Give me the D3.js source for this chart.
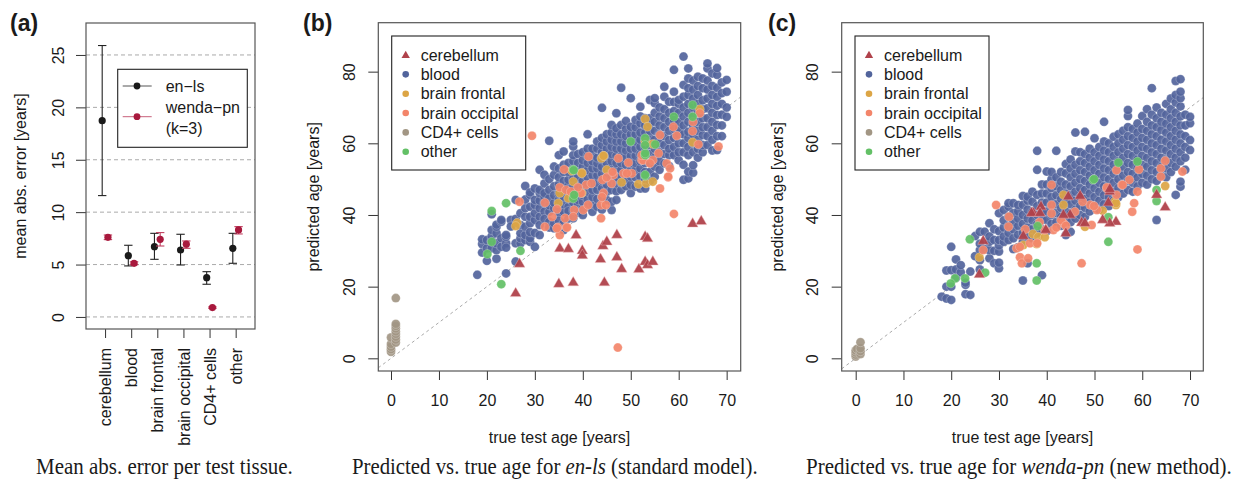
<!DOCTYPE html>
<html><head><meta charset="utf-8">
<script src="https://cdn.jsdelivr.net/npm/d3@7"></script>
<style>
body{margin:0;background:#fff}
svg{display:block}
text{font-family:"Liberation Sans",Arial,sans-serif;fill:#1a1a1a}
</style>
</head><body>
<svg id="chart" width="1238" height="484"></svg>
<script>
// ---------- Panel (a) data ----------
const tissues = ["cerebellum","blood","brain frontal","brain occipital","CD4+ cells","other"];
const enlsMean = [18.73, 5.85, 6.71, 6.39, 3.75, 6.55];
const enlsLo   = [11.58, 4.87, 5.50, 4.96, 3.12, 5.12];
const enlsHi   = [25.90, 6.84, 7.98, 7.89, 4.32, 7.98];
const wendaMean = [7.60, 5.12, 7.41, 6.94, 0.89, 8.30];
const wendaLo   = [7.38, 4.98, 6.77, 6.55, 0.82, 7.92];
const wendaHi   = [7.82, 5.26, 8.05, 7.25, 0.96, 8.62];
const aTicks = [0,5,10,15,20,25];
const ageTicks = [0,10,20,30,40,50,60,70];
const predTicks = [0,20,40,60,80];
const legendLabels = ["cerebellum","blood","brain frontal","brain occipital","CD4+ cells","other"];

// ---------- Panel (b) data: en-ls ----------
const bloodB = [
[18,[23.3]],[19,[29.5,31.9,33.2]],[20,[27.2,30.7,33.0]],[21,[30.7,32.8,34.1,35.8,40.2]],
[22,[27.8,30.2,32.1,34.9,36.7,37.3]],[23,[31.1,33.5,38.1,38.6]],[24,[23.7,32.1,33.9,34.4,30.9]],
[25,[38.6,36.8]],[26,[27.0,32.1,44.2,38.9]],[27,[32.1,33.5,34.9,37.2,40.5]],
[28,[33.0,34.4,36.7,39.5,41.9,48.1,44.3]],[29,[32.5,33.5,37.7,39.5,42.3,45.6,46.3,35.2]],
[30,[31.1,35.0,38.6,40.5,42.8,44.2,47.4]],[31,[34.4,39.5,41.9,44.0,46.1,47.0,52.6,37.2]],
[32,[41.0,43.3,45.1,46.1,48.8,51.2,38.9]],[33,[38.1,40.9,42.7,44.7,47.0,50.0,60.7,36.5]],
[34,[36.3,37.7,41.9,43.4,45.5,48.0,51.2,53.5]],[35,[40.5,42.1,44.2,46.0,48.5,50.5,53.0,56.7,38.4]],
[36,[35.8,37.7,40.9,43.0,45.1,47.5,49.5,52.0,54.0,57.7]],[37,[39.0,42.3,44.5,46.5,48.2,49.8,52.0,54.5,41.1]],
[38,[39.1,41.4,43.5,45.6,48.0,50.2,53.0,55.0,56.7,59.1,60.5]],[39,[42.8,44.2,46.5,48.5,50.5,52.5,54.5,57.0,40.6]],
[40,[40.0,41.9,43.7,45.5,47.5,49.5,51.5,53.5,55.3,57.5]],[41,[44.4,46.5,48.8,50.5,52.5,54.5,56.5,58.5,62.5,42.3]],
[42,[40.9,43.0,45.0,47.0,49.0,51.0,53.0,55.0,56.7,58.5]],[43,[42.3,44.5,47.0,49.0,51.0,53.0,54.4,56.0,58.5,60.5]],
[44,[41.5,45.0,47.5,49.5,51.5,53.5,55.5,57.5,59.5,61.5,69.9]],[45,[44.2,46.5,48.5,50.5,52.5,54.5,56.5,58.5,60.5,62.5]],
[46,[41.4,43.7,47.0,49.0,51.0,53.0,55.0,57.0,59.0,61.0,63.0,65.1]],[47,[44.2,46.6,48.8,50.5,52.5,54.5,56.5,58.5,60.5,62.5,64.2,68.4]],
[48,[47.0,49.0,51.0,52.6,54.5,56.5,58.5,60.5,62.5,65.1,75.5]],[49,[48.0,50.0,52.0,54.0,56.0,58.0,60.0,62.0,64.0,66.2]],
[50,[46.1,48.4,50.7,52.5,54.5,56.5,58.5,60.5,62.5,64.6,72.6]],[51,[47.9,50.5,52.5,54.5,56.5,58.5,60.5,62.5,64.5,66.5]],
[52,[47.4,50.7,53.0,55.0,57.0,59.0,61.0,63.0,65.6,70.2,67.5]],[53,[47.4,50.0,52.0,54.5,57.0,59.0,61.0,63.0,65.0,67.0]],
[54,[49.5,52.0,54.5,57.0,59.5,61.5,63.5,65.5,67.0,72.1]],[55,[50.7,53.5,56.0,58.5,61.0,63.5,66.0,68.5,71.2,72.6]],
[56,[52.6,55.0,57.5,60.0,62.5,65.0,67.5,70.0]],[57,[54.4,57.0,59.5,62.0,64.5,67.0,69.5,73.0,75.8]],
[58,[53.7,56.7,58.5,60.9,63.5,66.0,68.5,71.6]],[59,[56.7,59.0,61.5,64.0,66.5,69.0,71.5,74.4,80.5]],
[60,[55.3,57.5,60.0,62.5,64.3,66.0,68.5,71.0,72.1]],[61,[49.8,54.0,57.5,60.0,62.5,65.0,67.5,70.0,73.0,76.3,84.2]],
[62,[50.2,52.1,56.7,59.0,61.5,63.2,66.0,68.5,71.0,73.5,75.4,78.1,80.9]],[63,[51.8,53.9,57.5,60.0,62.5,65.0,67.5,70.0,72.5,75.0,77.5]],
[64,[56.0,58.5,61.0,63.5,66.0,68.5,71.0,73.5,76.0,78.6]],[65,[57.5,59.5,62.3,64.5,67.0,69.5,72.0,75.4,78.1]],
[66,[59.5,62.0,64.5,67.0,69.8,72.5,75.0,77.5,80.9,82.3]],[67,[58.0,61.0,63.5,66.0,68.5,71.0,73.5,76.0,79.5]],
[68,[58.1,62.0,65.1,67.9,70.5,73.0,75.5,79.1,81.0]],[69,[62.0,65.0,68.0,71.0,74.0,77.0]],[70,[67.4,70.0,74.4,77.7]]
];
const cd4B = [[0,1.8],[0,2.5],[0,3.2],[0,4.0],[0,5.8],[1,4.4],[1,5.2],[1,6.0],[1,6.8],[1,7.5],[1,8.3],[1,9.0],[1,9.6],[1,16.8]];
const frontB = [[43.9,55.8],[44.4,56.5],[39.8,51.8],[38.0,49.3],[35.2,46.1],[34.9,43.3],[26.3,37.8],[26.0,36.9],[48.1,49.1],[51.6,48.6],[53.2,48.8],[54.6,49.3],[45.0,52.6],[37.0,44.7],[39.8,46.1],[53.0,66.8],[53.5,64.6],[53.0,60.5],[54.6,59.8],[62.9,60.3],[64.4,69.5],[44.3,56.5],[37.7,52.3],[39.8,51.6]];
const occB = [[47.3,3.0],[29.4,62.1],[59.0,40.3],[56.1,47.4],[43.8,39.1],[26.8,43.7],[32.1,43.4],[32.1,36.7],[34.6,41.6],[33.6,39.5],[34.8,36.6],[35.2,34.4],[36.6,36.6],[36.3,39.1],[38.2,41.4],[38.0,39.5],[40.1,41.4],[41.1,42.8],[43.8,42.8],[44.8,42.8],[44.3,46.1],[44.0,45.0],[40.7,48.4],[41.8,48.8],[44.1,49.8],[46.0,48.8],[46.4,51.2],[48.5,51.6],[49.5,54.6],[50.2,51.6],[52.3,55.3],[54.6,55.3],[55.8,57.2],[57.5,54.4],[58.2,53.0],[57.8,50.5],[39.6,46.1],[39.0,47.7],[36.1,52.7],[41.2,56.3],[35.2,47.7],[36.5,47.0],[37.5,46.5],[47.4,55.8],[49.2,51.6],[52.6,55.3],[56.1,62.3],[58.9,64.6],[59.6,62.1],[62.9,63.4],[64.4,68.4],[64.1,59.7],[68.3,59.1],[57.8,50.7],[54.0,54.4],[52.3,56.7],[63.0,66.0],[45.0,50.5],[46.2,52.0],[34.6,36.3],[36.7,36.5]];
const otherB = [[21.0,41.1],[24.0,43.3],[21.0,32.5],[20.1,29.1],[27.0,30.0],[23.0,20.7],[38.0,52.7],[38.0,44.6],[38.2,45.6],[53.0,56.7],[53.0,50.9],[38.1,52.5],[50.0,60.5],[53.0,61.4],[53.0,57.2],[53.0,59.5],[55.1,59.7],[59.0,67.4],[62.9,70.7],[62.9,67.4],[53.0,51.2]];
const cerebB = [[26.0,18.1],[26.8,26.3],[35.0,20.7],[38.0,21.1],[44.5,21.1],[35.2,30.6],[37.0,30.5],[38.6,34.3],[39.9,30.0],[39.9,28.7],[43.7,27.6],[44.2,31.3],[45.0,32.5],[47.1,34.4],[47.1,28.2],[48.1,24.9],[51.7,24.8],[53.0,33.9],[53.5,33.4],[53.0,26.9],[53.5,26.0],[54.6,26.9],[62.9,37.5],[64.7,38.2]];

// ---------- Panel (c) data: wenda-pn ----------
const bloodC = [
[18,[17.2]],[19,[16.7,20.0,24.5]],[20,[16.3,20.0,24.6,31.1]],[21,[22.5,24.8,27.6]],[22,[24.0,26.0]],
[23,[17.9,20.5,21.1]],[24,[17.7,24.2]],[25,[28.5,34.1]],[26,[24.8,27.4,30.2,32.0,35.3]],[27,[30.5,35.3]],
[28,[27.9,30.2,32.5,34.0,37.7]],[29,[26.5,30.0,33.0,36.0]],[30,[25.1,26.7,29.8,31.5,33.0,35.5,40.5]],
[31,[32.5,34.0,36.5,38.5,41.4]],[32,[33.0,35.0,37.0,39.5,42.3,43.3]],[33,[30.5,33.5,36.0,38.0,40.5,43.3]],
[34,[31.0,34.5,37.0,39.0,41.0,42.8]],[35,[21.7,32.5,35.0,37.5,40.0,42.8,45.3]],[36,[26.5,34.0,36.5,39.0,41.5,44.0,45.1]],
[37,[33.5,36.0,38.5,41.0,43.7,46.5]],[38,[35.0,37.5,40.0,42.5,45.6,52.6,57.9]],[39,[23.2,36.0,38.5,41.0,43.5,46.0,48.5]],
[40,[35.5,38.6,41.0,43.5,46.0,48.5,52.1]],[41,[37.5,40.0,42.5,45.0,47.5,50.0,52.0]],[42,[38.0,40.5,43.0,45.5,48.0,50.5,57.9]],
[43,[37.0,39.5,42.0,44.5,47.0,49.3,52.0]],[44,[34.4,38.5,41.0,43.5,46.0,48.5,51.6,54.2]],
[45,[35.3,38.0,40.5,43.0,45.5,48.0,50.5,53.0,55.5]],[46,[39.0,41.5,44.0,46.5,49.0,51.5,54.0,57.7,63.0]],
[47,[40.0,42.5,45.0,47.5,50.0,52.5,55.0,57.5]],[48,[39.5,42.0,44.5,47.0,49.5,52.0,54.5,57.0,63.2]],
[49,[41.0,43.5,46.0,48.5,51.0,53.5,56.0,58.5]],[50,[42.5,45.0,47.5,50.0,52.5,55.0,57.5,61.4]],
[51,[41.5,44.0,46.5,49.0,51.5,54.0,56.5,59.0]],[52,[43.0,45.5,48.0,50.5,53.0,55.5,58.0,60.5,66.0]],
[53,[42.5,45.0,47.5,50.0,52.5,55.0,57.5,60.0]],[54,[44.0,46.5,49.0,51.5,54.0,56.5,59.0,61.8]],
[55,[45.0,47.5,50.0,52.5,55.0,57.5,60.0,62.5]],[56,[46.0,48.5,51.0,53.5,56.0,58.5,61.0,63.5]],
[57,[47.0,49.5,52.0,54.5,57.0,59.5,62.0,64.5,67.6,69.3]],[58,[46.5,49.0,51.5,54.0,56.5,59.0,61.5,64.0]],
[59,[48.0,50.5,53.0,55.5,58.0,60.5,63.0,65.5]],[60,[49.0,51.5,54.0,56.5,59.0,61.5,64.0,67.6]],
[61,[48.5,51.0,53.5,56.0,58.5,61.0,63.5,66.0,69.5]],[62,[50.0,52.5,55.0,57.5,60.0,62.5,65.0,68.0,75.4]],
[63,[38.6,49.5,52.0,54.5,57.0,59.5,62.0,64.5,67.0,70.0]],[64,[51.0,53.5,56.0,58.5,61.0,63.7,66.0,68.5]],
[65,[50.5,53.0,55.5,58.0,60.5,63.0,65.5,68.0,71.0]],[66,[52.0,54.5,57.0,59.5,62.0,64.5,67.0,69.5,72.5]],
[67,[45.6,53.5,56.0,58.5,61.0,63.5,66.0,68.5,71.4,73.5,77.4]],[68,[47.9,49.3,55.0,57.5,60.0,62.5,65.0,67.5,70.3,72.6,74.4,77.9]],
[69,[52.6,56.0,59.0,62.0,65.0,68.0]],[70,[58.1,60.9,65.6,67.4]]
];
const cd4C = [[0,0.5],[0,1.0],[0,1.6],[0,2.2],[0.3,2.6],[1,1.2],[1,2.0],[1,2.8],[1,4.5]];
const frontC = [[64.8,48.1],[51.7,41.2],[54.5,42.8],[54.3,43.8],[25.9,28.2],[37.1,34.7],[38.2,33.9],[39.6,33.8],[37.9,31.9],[35.1,31.6],[48.0,36.7],[43.5,45.6],[54.5,43.3],[43.5,42.8]];
const occC = [[29.4,42.8],[32.1,39.5],[32.0,36.7],[33.7,30.7],[34.4,28.2],[34.8,26.5],[36.1,27.9],[36.5,32.1],[38.0,32.1],[39.6,35.8],[41.0,42.8],[41.0,40.4],[41.4,35.8],[43.5,37.7],[45.9,40.9],[47.3,26.5],[49.4,37.2],[49.1,42.8],[50.5,41.4],[52.6,47.4],[54.6,45.6],[55.7,48.4],[57.9,40.9],[58.3,43.3],[59.0,30.4],[26.7,30.2],[34.4,31.1],[41.0,48.4],[54.6,52.5],[59.3,52.7],[63.9,53.0],[64.8,55.1],[63.9,50.7],[68.4,52.1],[57.3,49.8],[52.6,47.7],[55.9,48.4],[59.0,46.5],[49.9,42.5],[47.5,43.7],[43.0,38.5],[42.0,36.5],[44.0,37.0],[35.5,36.0],[38.5,38.0]];
const otherC = [[23.9,33.2],[20.8,22.3],[19.9,20.9],[22.9,22.3],[27.1,23.9],[37.9,26.5],[37.9,21.7],[38.1,36.9],[52.9,39.4],[52.9,32.5],[63.0,47.0],[63.0,43.9],[49.7,49.8],[55.0,54.6],[59.0,54.9],[49.9,50.0]];
const cerebC = [[64.8,42.1],[63.0,45.6],[54.5,38.1],[53.2,37.7],[51.7,38.6],[52.9,43.4],[53.2,46.5],[47.3,37.8],[48.0,37.7],[44.0,34.9],[44.9,40.0],[43.5,40.0],[44.5,45.1],[47.0,45.3],[39.8,35.8],[38.8,42.3],[37.2,40.5],[35.1,34.1],[26.7,32.7],[25.9,23.4],[53.2,47.2],[36.8,40.5],[38.6,40.5]];

// ---------- drawing ----------
const svg = d3.select("#chart");
const FONT = '"Liberation Sans", Arial, sans-serif';
const FS = 16;
const COLORS = ["#b0424b","#52649c","#dca545","#f3856a","#a29684","#63c066"];
const RED = "#a8193d";

function styleAxis(g){
  g.attr("font-size",FS).attr("font-family",FONT);
  g.select(".domain").remove();
  g.selectAll(".tick line").attr("stroke","#333").attr("stroke-width",1);
  g.selectAll(".tick text").attr("fill","#1a1a1a");
}

// ===== Panel (a) =====
const A = {l:86, r:255, t:23, b:329};
const xA = d3.scaleLinear().domain([0.27,6.74]).range([A.l,A.r]);
const yA = d3.scaleLinear().domain([-1.15,28.05]).range([A.b,A.t]);
const gA = svg.append("g");
gA.selectAll("line.grid").data(aTicks).join("line")
  .attr("x1",A.l).attr("x2",A.r).attr("y1",d=>yA(d)).attr("y2",d=>yA(d))
  .attr("stroke","#aaa").attr("stroke-dasharray","4,3");
const ayA = gA.append("g").attr("transform",`translate(${A.l},0)`)
  .call(d3.axisLeft(yA).tickValues(aTicks).tickSize(10).tickFormat(d3.format("d")));
styleAxis(ayA);
ayA.selectAll(".tick text").attr("x",0).attr("dy","0.35em").attr("text-anchor","middle")
  .attr("transform","translate(-28,0) rotate(-90)");
const axA = gA.append("g").attr("transform",`translate(0,${A.b})`)
  .call(d3.axisBottom(xA).tickValues([1,2,3,4,5,6]).tickSize(9).tickFormat((d,i)=>tissues[i]));
styleAxis(axA);
axA.selectAll(".tick text").attr("y",0).attr("dy","0.35em").attr("text-anchor","end")
  .attr("transform","translate(0,19) rotate(-90)");
gA.append("rect").attr("x",A.l).attr("y",A.t).attr("width",A.r-A.l).attr("height",A.b-A.t)
  .attr("fill","none").attr("stroke","#555").attr("stroke-width",1.2);

function errSeries(means, lo, hi, off, color, barColor){
  const g = gA.append("g");
  means.forEach((m,i)=>{
    const cx = xA(i+1+off);
    g.append("line").attr("x1",cx).attr("x2",cx).attr("y1",yA(lo[i])).attr("y2",yA(hi[i])).attr("stroke",barColor).attr("stroke-width",1.1);
    [lo[i],hi[i]].forEach(v=>g.append("line").attr("x1",cx-4.2).attr("x2",cx+4.2).attr("y1",yA(v)).attr("y2",yA(v)).attr("stroke",barColor).attr("stroke-width",1.1));
    g.append("circle").attr("cx",cx).attr("cy",yA(m)).attr("r",3.6).attr("fill",color);
  });
}
errSeries(enlsMean, enlsLo, enlsHi, -0.11, "#1a1a1a", "#222");
errSeries(wendaMean, wendaLo, wendaHi, 0.11, RED, "#c04060");

// legend (a)
const lg = gA.append("g");
lg.append("rect").attr("x",117.7).attr("y",69.3).attr("width",129.6).attr("height",78).attr("fill","#fff").attr("stroke","#222").attr("stroke-width",1.1);
lg.append("line").attr("x1",122.7).attr("x2",151.7).attr("y1",86).attr("y2",86).attr("stroke","#555");
lg.append("circle").attr("cx",137).attr("cy",86).attr("r",3.4).attr("fill","#1a1a1a");
lg.append("line").attr("x1",122.7).attr("x2",151.7).attr("y1",116.7).attr("y2",116.7).attr("stroke","#c8607a");
lg.append("circle").attr("cx",137).attr("cy",116.7).attr("r",3.4).attr("fill",RED);
[["en\u2212ls",86],["wenda\u2212pn",107],["(k=3)",128]].forEach(([t,y])=>
  lg.append("text").attr("x",165.7).attr("y",y).attr("dy","0.35em").attr("font-size",FS).text(t));
gA.append("text").attr("transform",`translate(20,${(A.t+A.b)/2}) rotate(-90)`).attr("text-anchor","middle")
  .attr("dy","0.35em").attr("font-size",FS).text("mean abs. error [years]");
svg.append("text").attr("x",10).attr("y",31).attr("font-size",23).attr("font-weight","bold").text("(a)");

// ===== Scatter panels =====
function scatterPanel(cfg){
  const P = {l:cfg.l, r:cfg.r, t:22.7, b:371};
  const x = d3.scaleLinear().domain(cfg.xDomain).range([P.l,P.r]);
  const y = d3.scaleLinear().domain([-3.54,93.66]).range([P.b,P.t]);
  const g = svg.append("g");
  const clipId = "clip"+cfg.id;
  g.append("clipPath").attr("id",clipId).append("rect").attr("x",P.l).attr("y",P.t).attr("width",P.r-P.l).attr("height",P.b-P.t);
  const ay = g.append("g").attr("transform",`translate(${P.l},0)`)
    .call(d3.axisLeft(y).tickValues(predTicks).tickSize(10).tickFormat(d3.format("d")));
  styleAxis(ay);
  ay.selectAll(".tick text").attr("x",0).attr("dy","0.35em").attr("text-anchor","middle")
    .attr("transform",`translate(${cfg.ylabOff},0) rotate(-90)`);
  const ax = g.append("g").attr("transform",`translate(0,${P.b})`)
    .call(d3.axisBottom(x).tickValues(ageTicks).tickSize(9).tickFormat(d3.format("d")));
  styleAxis(ax);
  ax.selectAll(".tick text").attr("y",29.5).attr("dy","0.35em");
  const plot = g.append("g").attr("clip-path",`url(#${clipId})`);
  const d0 = cfg.xDomain[0], d1 = cfg.xDomain[1];
  plot.append("line").attr("x1",x(d0)).attr("y1",y(d0)).attr("x2",x(d1)).attr("y2",y(d1))
    .attr("stroke","#aaa").attr("stroke-width",1).attr("stroke-dasharray","3,3");
  const blood = cfg.blood.flatMap(([a,ys])=>ys.map(v=>[a,v]));
  const dots = (data,color)=>plot.append("g").selectAll("circle").data(data).join("circle")
    .attr("cx",d=>x(d[0])).attr("cy",d=>y(d[1])).attr("r",4.5)
    .attr("fill",color).attr("fill-opacity",0.92)
    .attr("stroke","#ffffff").attr("stroke-opacity",0.35).attr("stroke-width",0.7);
  dots(blood, COLORS[1]);
  dots(cfg.cd4, COLORS[4]);
  dots(cfg.front, COLORS[2]);
  dots(cfg.occ, COLORS[3]);
  dots(cfg.other, COLORS[5]);
  const tri = d3.symbol(d3.symbolTriangle, 52);
  plot.append("g").selectAll("path").data(cfg.cereb).join("path")
    .attr("transform",d=>`translate(${x(d[0])},${y(d[1])})`).attr("d",tri)
    .attr("fill",COLORS[0]).attr("fill-opacity",0.95)
    .attr("stroke","#f0c0c4").attr("stroke-opacity",0.6).attr("stroke-width",0.7);
  g.append("rect").attr("x",P.l).attr("y",P.t).attr("width",P.r-P.l).attr("height",P.b-P.t)
    .attr("fill","none").attr("stroke","#555").attr("stroke-width",1.2);
  // legend
  const L = g.append("g");
  L.append("rect").attr("x",cfg.legX).attr("y",36).attr("width",134).attr("height",134)
    .attr("fill","#fff").attr("stroke","#222").attr("stroke-width",1.1);
  legendLabels.forEach((lab,i)=>{
    const yy = 55 + i*19.35;
    const sx = cfg.legX + 14;
    if(i===0){
      L.append("path").attr("transform",`translate(${sx},${yy+0.5})`).attr("d",d3.symbol(d3.symbolTriangle,30)).attr("fill",COLORS[0]);
    } else {
      L.append("circle").attr("cx",sx).attr("cy",yy).attr("r",3.3).attr("fill",COLORS[i]);
    }
    L.append("text").attr("x",cfg.legX+29).attr("y",yy).attr("dy","0.35em").attr("font-size",FS).text(lab);
  });
  g.append("text").attr("x",(P.l+P.r)/2).attr("y",443).attr("text-anchor","middle").attr("font-size",FS).text("true test age [years]");
  g.append("text").attr("transform",`translate(${cfg.ytitleX},${(P.t+P.b)/2}) rotate(-90)`).attr("text-anchor","middle")
    .attr("dy","0.35em").attr("font-size",FS).text("predicted age [years]");
  svg.append("text").attr("x",cfg.tagX).attr("y",31).attr("font-size",23).attr("font-weight","bold").text(cfg.tag);
}

scatterPanel({id:"b", l:378.3, r:740.7, xDomain:[-2.65,72.93], ylabOff:-28.8, ytitleX:313, legX:391.7, tagX:303, tag:"(b)",
  blood:bloodB, cd4:cd4B, front:frontB, occ:occB, other:otherB, cereb:cerebB});
scatterPanel({id:"c", l:841.7, r:1203.3, xDomain:[-2.93,72.78], ylabOff:-29.7, ytitleX:777, legX:855, tagX:768, tag:"(c)",
  blood:bloodC, cd4:cd4C, front:frontC, occ:occC, other:otherC, cereb:cerebC});

// ===== Captions =====
const captions = [
  {x:36, w:257, parts:[["Mean abs. error per test tissue.",false]]},
  {x:352, w:406, parts:[["Predicted vs. true age for ",false],["en-ls",true],[" (standard model).",false]]},
  {x:806, w:426, parts:[["Predicted vs. true age for ",false],["wenda-pn",true],[" (new method).",false]]}
];
captions.forEach(c=>{
  const t = svg.append("text").attr("x",0).attr("y",0)
    .style("font-family",'"Liberation Serif","Times New Roman",serif').attr("font-size",23.5).attr("fill","#111");
  c.parts.forEach(([s,it])=>t.append("tspan").attr("font-style",it?"italic":"normal").text(s));
  const w = t.node().getComputedTextLength();
  t.attr("transform",`translate(${c.x},474) scale(${c.w/w},1)`);
});
</script>
</body></html>
